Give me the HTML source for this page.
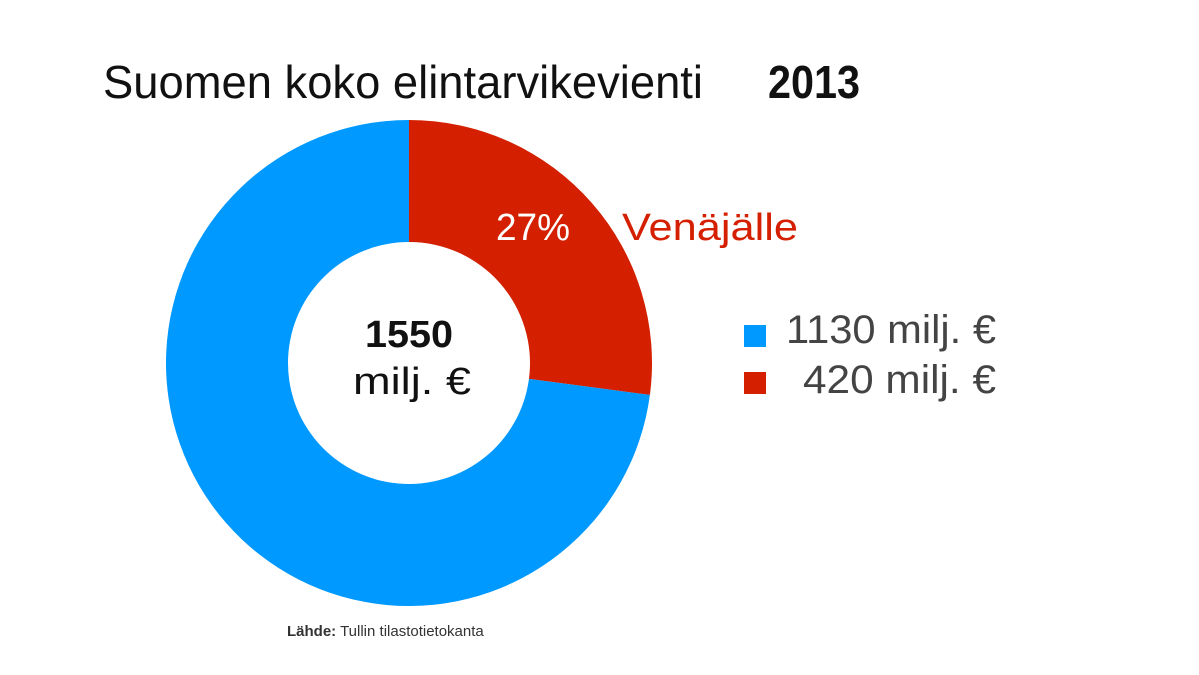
<!DOCTYPE html>
<html><head><meta charset="utf-8"><style>
html,body{margin:0;padding:0;background:#fff;}
svg{display:block;font-family:"Liberation Sans",sans-serif;}
</style></head><body>
<svg width="1199" height="675" viewBox="0 0 1199 675">
<text x="103" y="98" font-size="46" fill="#111" textLength="600" lengthAdjust="spacingAndGlyphs">Suomen koko elintarvikevienti</text>
<text x="768" y="98" font-size="46" font-weight="bold" fill="#111" textLength="92" lengthAdjust="spacingAndGlyphs">2013</text>
<g id="slices"></g>
<text x="409" y="347" font-size="38" font-weight="bold" text-anchor="middle" fill="#111" textLength="88" lengthAdjust="spacingAndGlyphs">1550</text>
<text x="412" y="394" font-size="38" text-anchor="middle" fill="#111" textLength="118" lengthAdjust="spacingAndGlyphs">milj. €</text>
<text x="496" y="240" font-size="38" fill="#fff" textLength="74" lengthAdjust="spacingAndGlyphs">27%</text>
<text x="622" y="240" font-size="38" fill="#d42000" textLength="176" lengthAdjust="spacingAndGlyphs">Venäjälle</text>
<rect x="744" y="325" width="22" height="22" fill="#0099ff"/>
<text x="786" y="343" font-size="40" fill="#444" textLength="210" lengthAdjust="spacingAndGlyphs">1130 milj. €</text>
<rect x="744" y="372" width="22" height="22" fill="#d42000"/>
<text x="803" y="393" font-size="40" fill="#444" textLength="193" lengthAdjust="spacingAndGlyphs">420 milj. €</text>
<text x="287" y="636" font-size="15" fill="#333"><tspan font-weight="bold">Lähde:</tspan> Tullin tilastotietokanta</text>
</svg>
<script>
const categories = ["Venäjälle", "Muualle"];
const values = [420, 1130];
const colors = ["#d42000", "#0099ff"];
const cx = 409, cy = 363, R = 243, r = 121;
const g = document.getElementById('slices');
const total = values.reduce((a,b)=>a+b,0);
let a0 = 0;
function pt(rad, a){return [cx + rad*Math.sin(a), cy - rad*Math.cos(a)];}
values.forEach((v,i)=>{
  const a1 = a0 + v/total*2*Math.PI;
  const large = (a1-a0) > Math.PI ? 1 : 0;
  const [x0,y0]=pt(R,a0),[x1,y1]=pt(R,a1),[x2,y2]=pt(r,a1),[x3,y3]=pt(r,a0);
  const p = document.createElementNS('http://www.w3.org/2000/svg','path');
  p.setAttribute('d',`M${x0},${y0}A${R},${R} 0 ${large} 1 ${x1},${y1}L${x2},${y2}A${r},${r} 0 ${large} 0 ${x3},${y3}Z`);
  p.setAttribute('fill',colors[i]);
  
  
  g.appendChild(p);
  a0 = a1;
});
</script>
</body></html>
